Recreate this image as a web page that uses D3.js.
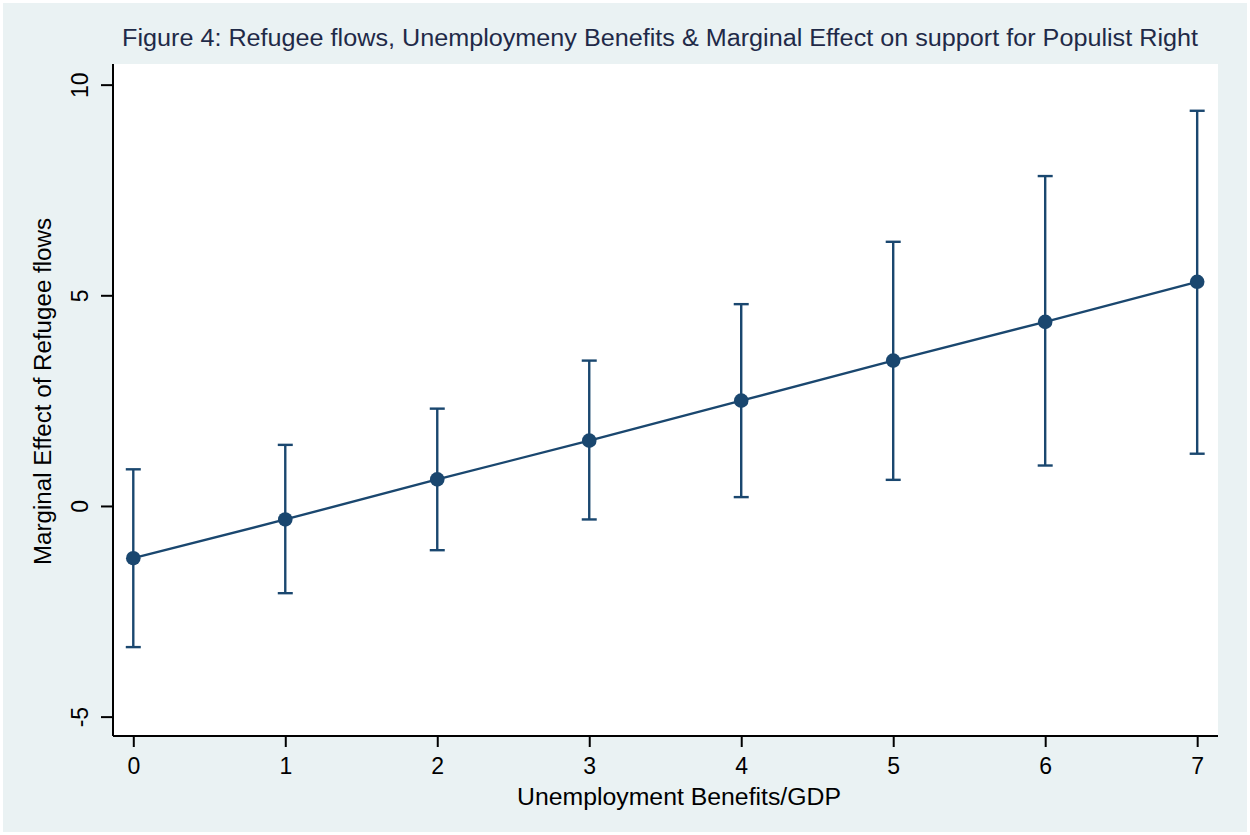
<!DOCTYPE html>
<html>
<head>
<meta charset="utf-8">
<script src="https://cdn.jsdelivr.net/npm/d3@7"></script>
<style>
  html, body { margin: 0; padding: 0; background: #ffffff; }
  svg { display: block; }
  text { font-family: "Liberation Sans", Arial, sans-serif; }
</style>
</head>
<body>
<svg id="chart" width="1250" height="835"></svg>
<script>
// ---- data ----
const benefits = [0, 1, 2, 3, 4, 5, 6, 7];
const marginalEffect = [-1.24, -0.32, 0.63, 1.55, 2.50, 3.45, 4.37, 5.32];
const ciUpper = [0.87, 1.45, 2.31, 3.45, 4.79, 6.27, 7.83, 9.38];
const ciLower = [-3.35, -2.07, -1.05, -0.32, 0.21, 0.62, 0.96, 1.24];
const xTicks = [0, 1, 2, 3, 4, 5, 6, 7];
const yTicks = [-5, 0, 5, 10];
const titleText = "Figure 4: Refugee flows, Unemploymeny Benefits & Marginal Effect on support for Populist Right";
const xTitle = "Unemployment Benefits/GDP";
const yTitle = "Marginal Effect of Refugee flows";

const rows = benefits.map((b, i) => ({ x: b, y: marginalEffect[i], lo: ciLower[i], hi: ciUpper[i] }));

const svg = d3.select("#chart");
const W = 1250, H = 835;
const plot = { left: 113, right: 1218, top: 64, bottom: 736 };
const navy = "#1a476f";
const fontFam = "Liberation Sans, Arial, sans-serif";

// backgrounds
svg.append("rect").attr("x", 3).attr("y", 3).attr("width", W - 6).attr("height", H - 6).attr("fill", "#eaf2f3");
svg.append("rect").attr("x", plot.left).attr("y", plot.top)
  .attr("width", plot.right - plot.left).attr("height", plot.bottom - plot.top).attr("fill", "#ffffff");

const x = d3.scaleLinear().domain([-0.1335, 7.137]).range([plot.left, plot.right]);
const y = d3.scaleLinear().domain([-5.46, 10.49]).range([plot.bottom, plot.top]);

const fmt = d => String(d);

// axes
const xAxis = d3.axisBottom(x).tickValues(xTicks).tickFormat(fmt).tickSize(11).tickPadding(7);
const yAxis = d3.axisLeft(y).tickValues(yTicks).tickFormat(fmt).tickSize(12).tickPadding(6);

const gx = svg.append("g").attr("transform", `translate(0,${plot.bottom})`).call(xAxis);
gx.select(".domain").attr("d", `M${plot.left},0H${plot.right}`).attr("stroke", "#000").attr("stroke-width", 2);
gx.selectAll(".tick line").attr("stroke", "#000").attr("stroke-width", 2);
gx.selectAll(".tick text").attr("fill", "#000").attr("font-size", 23).attr("font-family", fontFam)
  .attr("y", 38).attr("dy", null);

const gy = svg.append("g").attr("transform", `translate(${plot.left},0)`).call(yAxis);
gy.select(".domain").attr("d", `M0,${plot.top}V${plot.bottom}`).attr("stroke", "#000").attr("stroke-width", 2);
gy.selectAll(".tick line").attr("stroke", "#000").attr("stroke-width", 2);
gy.selectAll(".tick text")
  .attr("fill", "#000").attr("font-size", 23).attr("font-family", fontFam)
  .attr("text-anchor", "middle").attr("x", null).attr("y", 0).attr("dy", null)
  .attr("transform", "translate(-25,0) rotate(-90)");

// line
const line = d3.line().x(d => x(d.x)).y(d => y(d.y));
svg.append("path").datum(rows).attr("d", line).attr("fill", "none").attr("stroke", navy).attr("stroke-width", 2.4);

// error bars
const eb = svg.append("g").attr("stroke", navy).attr("stroke-width", 2.4).attr("fill", "none");
eb.selectAll("line.v").data(rows).join("line").attr("class", "v")
  .attr("x1", d => x(d.x)).attr("x2", d => x(d.x)).attr("y1", d => y(d.lo)).attr("y2", d => y(d.hi));
eb.selectAll("line.capHi").data(rows).join("line").attr("class", "capHi")
  .attr("x1", d => x(d.x) - 7.5).attr("x2", d => x(d.x) + 7.5).attr("y1", d => y(d.hi)).attr("y2", d => y(d.hi));
eb.selectAll("line.capLo").data(rows).join("line").attr("class", "capLo")
  .attr("x1", d => x(d.x) - 7.5).attr("x2", d => x(d.x) + 7.5).attr("y1", d => y(d.lo)).attr("y2", d => y(d.lo));

// markers
svg.append("g").selectAll("circle").data(rows).join("circle")
  .attr("cx", d => x(d.x)).attr("cy", d => y(d.y)).attr("r", 7.3).attr("fill", navy);

// titles
svg.append("text").attr("x", 660).attr("y", 46).attr("text-anchor", "middle")
  .attr("font-size", 23).attr("fill", "#1f2a48")
  .attr("textLength", 1076).attr("lengthAdjust", "spacingAndGlyphs").text(titleText);
svg.append("text").attr("x", 679).attr("y", 805).attr("text-anchor", "middle")
  .attr("font-size", 23).attr("fill", "#000")
  .attr("textLength", 324).attr("lengthAdjust", "spacingAndGlyphs").text(xTitle);
svg.append("text").attr("transform", "translate(51,391.5) rotate(-90)").attr("text-anchor", "middle")
  .attr("font-size", 23).attr("fill", "#000")
  .attr("textLength", 347).attr("lengthAdjust", "spacingAndGlyphs").text(yTitle);
</script>
</body>
</html>
